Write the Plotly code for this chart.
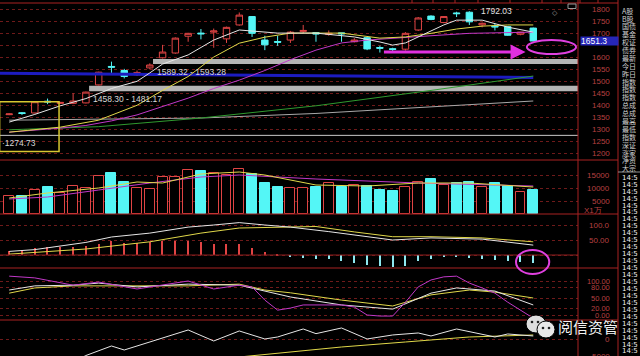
import plotly.graph_objects as go

W, H = 640, 356
PLOT_R = 578          # right edge of the chart panels (px)
COL_R = 618           # right edge of the axis-label column (px)

# ---------------- data ----------------
opens  = [1361, 1369, 1368, 1417, 1408, 1408, 1410, 1485, 1562, 1545,
          1527, 1556, 1598, 1618, 1688, 1701, 1705, 1677, 1735, 1770,
          1672, 1666, 1672, 1708, 1703, 1695, 1702, 1665, 1682, 1641,
          1636, 1634, 1714, 1772, 1745, 1785, 1788, 1735, 1730, 1728,
          1696, 1722]
highs  = [1366, 1372, 1417, 1428, 1414, 1450, 1457, 1540, 1582, 1552,
          1545, 1575, 1652, 1683, 1702, 1718, 1720, 1728, 1787, 1772,
          1690, 1690, 1710, 1735, 1703, 1712, 1702, 1680, 1685, 1648,
          1640, 1705, 1768, 1775, 1772, 1790, 1792.03, 1745, 1740, 1730,
          1706, 1724]
lows   = [1359, 1360, 1366, 1405, 1406, 1405, 1408, 1483, 1535, 1512,
          1522, 1550, 1595, 1615, 1665, 1675, 1640, 1660, 1732, 1685,
          1630, 1648, 1660, 1700, 1665, 1690, 1665, 1662, 1630, 1620,
          1625, 1628, 1710, 1755, 1742, 1768, 1735, 1725, 1712, 1690,
          1692, 1666]
closes = [1364, 1366, 1415, 1414, 1412, 1418, 1455, 1538, 1559, 1520,
          1537, 1568, 1622, 1680, 1700, 1698, 1710, 1725, 1776, 1700,
          1652, 1663, 1705, 1712, 1697, 1700, 1698, 1672, 1635, 1638,
          1633, 1700, 1764, 1758, 1770, 1782, 1748, 1742, 1727, 1692,
          1705, 1668]

volumes = [6900, 6900, 9200, 10500, 8200, 10800, 9900, 14600, 15600, 12400,
           10100, 9500, 14100, 14100, 16800, 16500, 15600, 15000, 17300, 15400,
           12000, 10300, 9900, 9900, 10300, 12000, 10500, 11200, 10800, 9200,
           8800, 10500, 12200, 13300, 11200, 11800, 12200, 10300, 11800, 10800,
           8600, 9200]

# price moving averages (sparse readings: index, value)
ma5_x = [0, 2, 4, 6, 8, 10, 11, 12, 14, 16, 18, 19, 21, 24, 27, 29, 30, 31, 32, 34, 35, 37, 39, 41]
ma5_y = [1330, 1362, 1398, 1428, 1470, 1500, 1535, 1572, 1610, 1672, 1714, 1710, 1701, 1701,
         1685, 1664, 1651, 1660, 1685, 1735, 1755, 1755, 1726, 1705]
ma10_x = [0, 4, 7, 10, 12, 14, 16, 18, 20, 22, 24, 26, 29, 31, 33, 35, 37, 39, 41]
ma10_y = [1288, 1309, 1338, 1400, 1462, 1520, 1601, 1659, 1684, 1701, 1701, 1701, 1680,
          1685, 1700, 1718, 1730, 1735, 1735]
ma20_x = [0, 2, 4, 6, 8, 10, 12, 14, 16, 18, 20, 22, 24, 26, 28, 30, 33, 36, 38, 41]
ma20_y = [1288, 1295, 1305, 1316, 1335, 1360, 1395, 1430, 1470, 1505, 1545, 1590, 1630,
          1660, 1672, 1678, 1690, 1700, 1703, 1705]
ma60_x = [0, 7, 15, 24, 33, 41]
ma60_y = [1298, 1311, 1347, 1398, 1462, 1522]
ma120_x = [0, 15, 24, 33, 41]
ma120_y = [1338, 1347, 1366, 1392, 1418]
blue_x = [-0.72, 41]
blue_y = [1534, 1516]

support_level = 1274.73
band1 = (1572, 1593.28, 11.25, "1589.32 - 1593.28")
band2 = (1458.30, 1481.17, 6.25, "1458.30 - 1481.17")
box_rect = (-0.75, 3.9, 1207, 1415)
high_mark = (36, 1792.03, "1792.03")
last_label = "1651.3"

# volume averages
vma1_x = [0, 3, 7, 10, 12, 15, 18, 20, 24, 28, 32, 36, 41]
vma1_y = [6150, 8080, 10000, 12310, 11920, 15380, 16150, 15000, 11150, 10770, 11920, 11920, 10380]
vma2_x = [0, 3, 7, 11, 15, 18, 24, 32, 41]
vma2_y = [5770, 6540, 9230, 11920, 14230, 15000, 13460, 11920, 10770]

# MACD
macd_bars = [14, 17, 23, 26, 28, 28, 31, 37, 46, 40,
             40, 42, 46, 48, 48, 44, 37, 37, 37, 23,
             9, 2, -6, -9, -13, -13, -19, -28, -32, -38,
             -41, -36, -19, -13, -7, -6, -10, -13, -16, -20,
             -23, -28]
dif_x = [0, 2, 6, 8, 11, 14, 16, 18, 20, 22, 25, 30, 33, 37, 41]
dif_y = [12, 18, 42, 60, 73, 93, 100, 108, 100, 93, 78, 50, 57, 53, 33]
dea_x = [0, 6, 11, 15, 18, 22, 24, 27, 30, 33, 37, 41]
dea_y = [3, 20, 44, 73, 90, 93, 95, 77, 61, 61, 57, 44]

# KDJ
j_x = [0, 2, 5, 7, 10, 14, 16, 18, 19, 20, 21, 22, 23, 25, 26, 27, 28, 29, 30, 31,
       32, 33, 34, 35, 36, 37, 38, 39, 40, 41]
j_y = [114, 109, 88, 97, 77, 100, 77, 88, 83, 45, 16, 22, 31, 31, 31, 25, 2, -1, -1, 39,
       83, 103, 112, 114, 94, 80, 65, 39, 16, -7]
k_x = [0, 2, 5, 7, 10, 14, 18, 19, 22, 26, 30, 33, 35, 38, 41]
k_y = [74, 86, 88, 94, 83, 91, 88, 80, 54, 31, 19, 65, 80, 71, 31]
d_x = [0, 2, 5, 10, 14, 18, 20, 22, 26, 30, 33, 36, 38, 41]
d_y = [65, 80, 86, 86, 86, 91, 74, 66, 45, 28, 60, 74, 68, 51]

# bottom indicator
b1_x = [5, 6, 8, 9, 14, 16, 18, 20, 21, 22, 23, 24, 26, 28, 30, 32, 33, 35, 37, 38, 39, 41]
b1_y = [-6800, -4860, -2000, -3200, 2800, -500, 2500, 100, 700, 2000, 3100, 1700, 3400, 100,
        1300, 1900, 1000, 3100, 1450, 700, 1600, 1000]
b2_x = [18, 21, 26, 31, 36, 41]
b2_y = [-5300, -4100, -2300, -800, 700, 1300]

price_ticks = [1800, 1750, 1700, 1650, 1600, 1550, 1500, 1450, 1400, 1350, 1300, 1250, 1200]
vol_ticks = [15000, 10000, 5000]
macd_ticks = [(100, "100.0"), (50, "50.00")]
kdj_ticks = [(100, "100.00"), (80, "80.00"), (50, "50.00"), (20, "20.00"), (0, "0.00")]
bot_ticks = [(0, "0"), (-5000, "5000")]

side_rows = ["A股", "B股", "国债", "基金", "权证", "债券", "最新", "今日", "昨日", "指数",
             "指数", "指数", "总成", "总成", "最高", "最低", "指数", "深证", "涨家", "净资", "大宗"]
time_rows = ["14:5"] * 26

# ---------------- styling ----------------
RED = '#e04444'
CYAN = '#54f6f6'
GRID = '#6e1a1a'
SEP = '#a82222'
LBL = '#b84040'
WHITE = '#e6e6e6'
YELLOW = '#e0d84a'
PURPLE = '#c038c8'
GREEN = '#2f9a2f'
GREY = '#a8a8a8'
BLUE = '#1c1cc0'


def fy(py):
    return 1 - py / H


def fx(px):
    return px / W


x_idx = list(range(len(closes)))
up = [c >= o for o, c in zip(opens, closes)]

fig = go.Figure()


def line(x, y, color, ax, width=1):
    fig.add_trace(go.Scatter(x=x, y=y, mode='lines', line=dict(color=color, width=width),
                             xaxis=ax[0], yaxis=ax[1], hoverinfo='skip'))


P = ('x', 'y')
V = ('x2', 'y2')
M = ('x3', 'y3')
K = ('x4', 'y4')
B = ('x5', 'y5')

# price panel
line(blue_x, blue_y, BLUE, P, 3)
line([-0.72, 44.5], [support_level, support_level], '#c8c8c8', P, 1)
line(ma120_x, ma120_y, GREY, P)
line(ma60_x, ma60_y, GREEN, P)
line(ma20_x, ma20_y, PURPLE, P)
line(ma10_x, ma10_y, YELLOW, P)
line(ma5_x, ma5_y, WHITE, P)
fig.add_trace(go.Candlestick(
    x=x_idx, open=opens, high=highs, low=lows, close=closes,
    increasing=dict(line=dict(color=RED, width=1), fillcolor='#000000'),
    decreasing=dict(line=dict(color=CYAN, width=1), fillcolor=CYAN),
    whiskerwidth=0, xaxis='x', yaxis='y', hoverinfo='skip'))

# volume panel
fig.add_trace(go.Bar(x=x_idx, y=[v if u else None for v, u in zip(volumes, up)], width=0.78,
                     marker=dict(color='#000000', line=dict(color=RED, width=1)),
                     xaxis='x2', yaxis='y2', hoverinfo='skip'))
fig.add_trace(go.Bar(x=x_idx, y=[None if u else v for v, u in zip(volumes, up)], width=0.78,
                     marker=dict(color=CYAN, line=dict(color=CYAN, width=1)),
                     xaxis='x2', yaxis='y2', hoverinfo='skip'))
line(vma2_x, vma2_y, PURPLE, V)
line(vma1_x, vma1_y, YELLOW, V)

# MACD panel
fig.add_trace(go.Bar(x=x_idx, y=[m if m > 0 else None for m in macd_bars], width=0.1,
                     marker=dict(color=RED, line=dict(width=0)), xaxis='x3', yaxis='y3', hoverinfo='skip'))
fig.add_trace(go.Bar(x=x_idx, y=[m if m < 0 else None for m in macd_bars], width=0.1,
                     marker=dict(color='#8ee8f0', line=dict(width=0)), xaxis='x3', yaxis='y3', hoverinfo='skip'))
line(dea_x, dea_y, YELLOW, M)
line(dif_x, dif_y, WHITE, M)

# KDJ panel
line(d_x, d_y, YELLOW, K)
line(k_x, k_y, WHITE, K)
line(j_x, j_y, PURPLE, K)

# bottom panel
line(b2_x, b2_y, YELLOW, B)
line(b1_x, b1_y, WHITE, B)

# ---------------- axes ----------------
XR = [-0.72, 44.5]
xdom = [0, fx(PLOT_R)]


def yax(dom, rng, tickvals):
    return dict(domain=dom, range=rng, tickvals=tickvals, showticklabels=False, ticks='',
                showgrid=True, gridcolor=GRID, griddash='dot', gridwidth=1,
                zeroline=False, showline=False, fixedrange=True)


layout = dict(
    width=W, height=H, margin=dict(l=0, r=0, t=0, b=0),
    paper_bgcolor='#000000', plot_bgcolor='#000000',
    showlegend=False, barmode='overlay', bargap=0, boxgap=0.28,
    hovermode=False,
    xaxis=dict(domain=xdom, range=XR, visible=False, anchor='y', rangeslider=dict(visible=False),
               fixedrange=True),
    yaxis=yax([fy(160), fy(0)], [1172, 1839], price_ticks),
    yaxis2=yax([fy(214), fy(160)], [0, 20770], vol_ticks),
    yaxis3=yax([fy(268), fy(214)], [-43.3, 136.7], [100, 50, 0]),
    yaxis4=yax([fy(320), fy(268)], [-12.4, 137.5], [100, 80, 50, 20, 0]),
    yaxis5=yax([0, fy(320)], [-5000, 5790], [0]),
)
for n in range(2, 6):
    layout['xaxis%d' % n] = dict(domain=xdom, range=XR, visible=False, anchor='y%d' % n,
                                 matches='x', fixedrange=True)
layout['yaxis']['anchor'] = 'x'
for n in range(2, 6):
    layout['yaxis%d' % n]['anchor'] = 'x%d' % n
fig.update_layout(**layout)

shapes = []
annotations = []

# separators
for py in [3, 160, 214, 268, 320]:
    shapes.append(dict(type='line', xref='paper', yref='paper', x0=0, x1=fx(COL_R),
                       y0=fy(py), y1=fy(py), line=dict(color=SEP, width=1)))
shapes.append(dict(type='line', xref='paper', yref='y3', x0=0, x1=fx(PLOT_R), y0=0, y1=0,
                   line=dict(color='#8a1e1e', width=1)))
for px in [PLOT_R, COL_R]:
    shapes.append(dict(type='line', xref='paper', yref='paper', x0=fx(px), x1=fx(px),
                       y0=0, y1=1, line=dict(color=SEP, width=1)))
shapes.append(dict(type='line', xref='paper', yref='paper', x0=fx(COL_R), x1=1,
                   y0=fy(172), y1=fy(172), line=dict(color='#909090', width=1)))
# header cell separators (top strip)
for px in [412, 433, 455, 478, 510, 542, 561, 580, 598]:
    shapes.append(dict(type='line', xref='paper', yref='paper', x0=fx(px), x1=fx(px),
                       y0=fy(3), y1=1, line=dict(color=SEP, width=1)))

# grey bands
for lo, hi, x0, txt in [band1, band2]:
    shapes.append(dict(type='rect', xref='x', yref='y', x0=x0, x1=XR[1], y0=lo, y1=hi,
                       fillcolor='#b4b4b4', line=dict(width=0), layer='below'))
    annotations.append(dict(x=x0 + 0.15, y=lo, xref='x', yref='y', text=txt, showarrow=False,
                            xanchor='left', yanchor='top', yshift=-1,
                            font=dict(size=8.5, color='#d8d8d8', family='Liberation Sans')))

# yellow box
shapes.append(dict(type='rect', xref='x', yref='y', x0=box_rect[0], x1=box_rect[1],
                   y0=box_rect[2], y1=box_rect[3], line=dict(color='#d8c830', width=1.5)))
annotations.append(dict(x=-0.7, y=support_level, xref='x', yref='y', text='·1274.73',
                        showarrow=False, xanchor='left', yanchor='top', yshift=-0.5,
                        font=dict(size=8.5, color='#d8d8d8', family='Liberation Sans')))

# high label
annotations.append(dict(x=high_mark[0] + 0.75, y=high_mark[1], xref='x', yref='y', text=high_mark[2],
                        showarrow=False, xanchor='left', yanchor='middle',
                        font=dict(size=8.5, color='#e0e0e0', family='Liberation Sans')))

# magenta arrow + ellipse
annotations.append(dict(x=40.4, y=1622, ax=29.2, ay=1622, xref='x', yref='y', axref='x', ayref='y',
                        text='', showarrow=True, arrowhead=2, arrowsize=1, arrowwidth=3,
                        arrowcolor='#e030e0'))
shapes.append(dict(type='circle', xref='x', yref='y', x0=40.5, x1=44.35, y0=1614, y1=1672,
                   line=dict(color='#e040e0', width=2)))
shapes.append(dict(type='circle', xref='x', yref='paper', x0=39.65, x1=42.25,
                   y0=fy(274), y1=fy(250), line=dict(color='#e040e0', width=2)))

# last price box
annotations.append(dict(x=fx(580), y=closes[-1], xref='paper', yref='y', text=last_label,
                        showarrow=False, xanchor='left', yanchor='middle', align='left',
                        width=37, height=8, bgcolor='#2626b8', borderpad=0,
                        font=dict(size=8.5, color='#ffffff', family='Liberation Sans')))

# axis labels (positioned through each panel's scale)
lblfont = dict(size=8, color=LBL, family='Liberation Sans')
for v in price_ticks:
    if v == 1650:
        continue
    annotations.append(dict(x=fx(612), xref='paper', y=v, yref='y', text=str(v), showarrow=False,
                            xanchor='right', yanchor='middle', font=lblfont))
for v in vol_ticks:
    annotations.append(dict(x=fx(612), xref='paper', y=v, yref='y2', text=str(v), showarrow=False,
                            xanchor='right', yanchor='middle', font=lblfont))
annotations.append(dict(x=fx(582), xref='paper', y=fy(211), yref='paper', text='X1万', showarrow=False,
                        xanchor='left', yanchor='middle', font=lblfont))
for v, t in macd_ticks:
    annotations.append(dict(x=fx(612), xref='paper', y=v, yref='y3', text=t, showarrow=False,
                            xanchor='right', yanchor='middle', font=lblfont))
for v, t in kdj_ticks:
    annotations.append(dict(x=fx(612), xref='paper', y=v, yref='y4', text=t, showarrow=False,
                            xanchor='right', yanchor='middle', font=dict(size=7.5, color=LBL,
                                                                          family='Liberation Sans')))
for v, t in bot_ticks:
    annotations.append(dict(x=fx(612), xref='paper', y=v, yref='y5', text=t, showarrow=False,
                            xanchor='right', yanchor='middle', font=lblfont))

# right text column
for k, t in enumerate(side_rows):
    annotations.append(dict(x=fx(620), xref='paper', y=fy(10.7 + 7.88 * k), yref='paper', text=t,
                            showarrow=False, xanchor='left', yanchor='middle',
                            font=dict(size=7, color='#cfcfcf', family='Noto Sans CJK SC')))
for k, t in enumerate(time_rows):
    annotations.append(dict(x=fx(620), xref='paper', y=fy(177.7 + 6.95 * k), yref='paper', text=t,
                            showarrow=False, xanchor='left', yanchor='middle',
                            font=dict(size=7, color='#f0f0f0', family='DejaVu Sans')))

# small icons at top right of chart
annotations.append(dict(x=fx(560), xref='paper', y=fy(6), yref='paper', text='◇', showarrow=False,
                        font=dict(size=7, color='#9a9a9a')))
shapes.append(dict(type='rect', xref='paper', yref='paper', x0=fx(568), x1=fx(576),
                   y0=fy(8.5), y1=fy(4), line=dict(color='#9a9a9a', width=1)))

# watermark (WeChat-like logo + text)
shapes.append(dict(type='circle', xref='paper', yref='paper', x0=fx(526), x1=fx(546),
                   y0=fy(333), y1=fy(315), fillcolor='#dedede', line=dict(color='#000000', width=1)))
shapes.append(dict(type='circle', xref='paper', yref='paper', x0=fx(537), x1=fx(555),
                   y0=fy(338), y1=fy(321), fillcolor='#e8e8e8', line=dict(color='#000000', width=1)))
for ex, ey in [(532, 322), (538, 322), (543, 328), (549, 328)]:
    shapes.append(dict(type='circle', xref='paper', yref='paper', x0=fx(ex - 1.3), x1=fx(ex + 1.3),
                       y0=fy(ey + 1.3), y1=fy(ey - 1.3), fillcolor='#202020', line=dict(width=0)))
annotations.append(dict(x=fx(556), xref='paper', y=fy(326.5), yref='paper', text='阅信资管',
                        showarrow=False, xanchor='left', yanchor='middle',
                        font=dict(size=15, color='#f2f2f2', family='Noto Sans CJK SC')))

fig.update_layout(shapes=shapes, annotations=annotations)
fig.write_html("out.html")
